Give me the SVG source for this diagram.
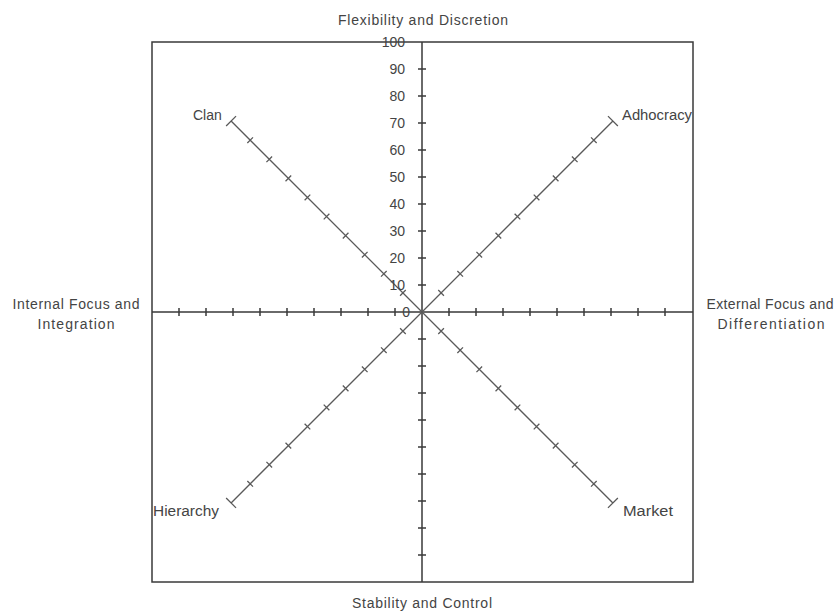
<svg xmlns="http://www.w3.org/2000/svg" xmlns:xlink="http://www.w3.org/1999/xlink" width="836" height="612" viewBox="0 0 836 612">
<style>
.ax{stroke:#3a3a3a;stroke-width:1.5;fill:none}
.dg{stroke:#5a5a5a;stroke-width:1.3;fill:none}
.t{font-family:"Liberation Sans",Arial,sans-serif;font-size:14px;fill:#444}
.n{font-family:"Liberation Sans",Arial,sans-serif;font-size:14px;fill:#444;text-anchor:end}
.m{text-anchor:middle}
</style>
<defs>
<g id="diag">
<path class="dg" d="M0 0H270M27 -4V4M54 -4V4M81 -4V4M108 -4V4M135 -4V4M162 -4V4M189 -4V4M216 -4V4M243 -4V4M270 -7V7"/>
</g>
<path id="htick" class="ax" d="M0 -4V4"/>
</defs>
<rect width="836" height="612" fill="#fff"/>
<g id="frame">
<rect class="ax" x="152" y="42" width="541" height="540"/>
</g>
<g id="connectors">
<path id="axis-h" class="ax" d="M152 312H693M179 308V316M206 308V316M233 308V316M260 308V316M287 308V316M314 308V316M341 308V316M368 308V316M395 308V316M449 308V316M476 308V316M503 308V316M530 308V316M557 308V316M584 308V316M611 308V316M638 308V316M665 308V316"/>
<path id="axis-v" class="ax" d="M422 42V582M418 69H426M418 96H426M418 123H426M418 150H426M418 177H426M418 204H426M418 231H426M418 258H426M418 285H426M418 339H426M418 366H426M418 393H426M418 420H426M418 447H426M418 474H426M418 501H426M418 528H426M418 555H426"/>
<use id="diag-clan" xlink:href="#diag" transform="translate(422 312) rotate(-135)"/>
<use id="diag-adhocracy" xlink:href="#diag" transform="translate(422 312) rotate(-45)"/>
<use id="diag-market" xlink:href="#diag" transform="translate(422 312) rotate(45)"/>
<use id="diag-hierarchy" xlink:href="#diag" transform="translate(422 312) rotate(135)"/>
</g>
<g id="scale">
<text class="n" x="405" y="47">100</text>
<text class="n" x="405" y="74">90</text>
<text class="n" x="405" y="101">80</text>
<text class="n" x="405" y="128">70</text>
<text class="n" x="405" y="155">60</text>
<text class="n" x="405" y="182">50</text>
<text class="n" x="405" y="209">40</text>
<text class="n" x="405" y="236">30</text>
<text class="n" x="405" y="263">20</text>
<text class="n" x="405" y="290">10</text>
<text class="n" x="410" y="317">0</text>
</g>
<g id="label-top"><text class="t m" x="423" y="25" textLength="170" lengthAdjust="spacing">Flexibility and Discretion</text></g>
<g id="label-bottom"><text class="t m" x="422" y="608" textLength="140" lengthAdjust="spacing">Stability and Control</text></g>
<g id="label-left"><text class="t m" x="76" y="309" textLength="127" lengthAdjust="spacing">Internal Focus and</text><text class="t m" x="76" y="329" textLength="77" lengthAdjust="spacing">Integration</text></g>
<g id="label-right"><text class="t m" x="770" y="309" textLength="127" lengthAdjust="spacing">External Focus and</text><text class="t m" x="771" y="329" textLength="107" lengthAdjust="spacing">Differentiation</text></g>
<g id="clan"><text class="t" x="193" y="120">Clan</text></g>
<g id="adhocracy"><text class="t" x="622" y="120" textLength="70" lengthAdjust="spacingAndGlyphs">Adhocracy</text></g>
<g id="hierarchy"><text class="t" x="153" y="516" textLength="66" lengthAdjust="spacingAndGlyphs">Hierarchy</text></g>
<g id="market"><text class="t" x="623" y="516" textLength="50" lengthAdjust="spacingAndGlyphs">Market</text></g>
</svg>
